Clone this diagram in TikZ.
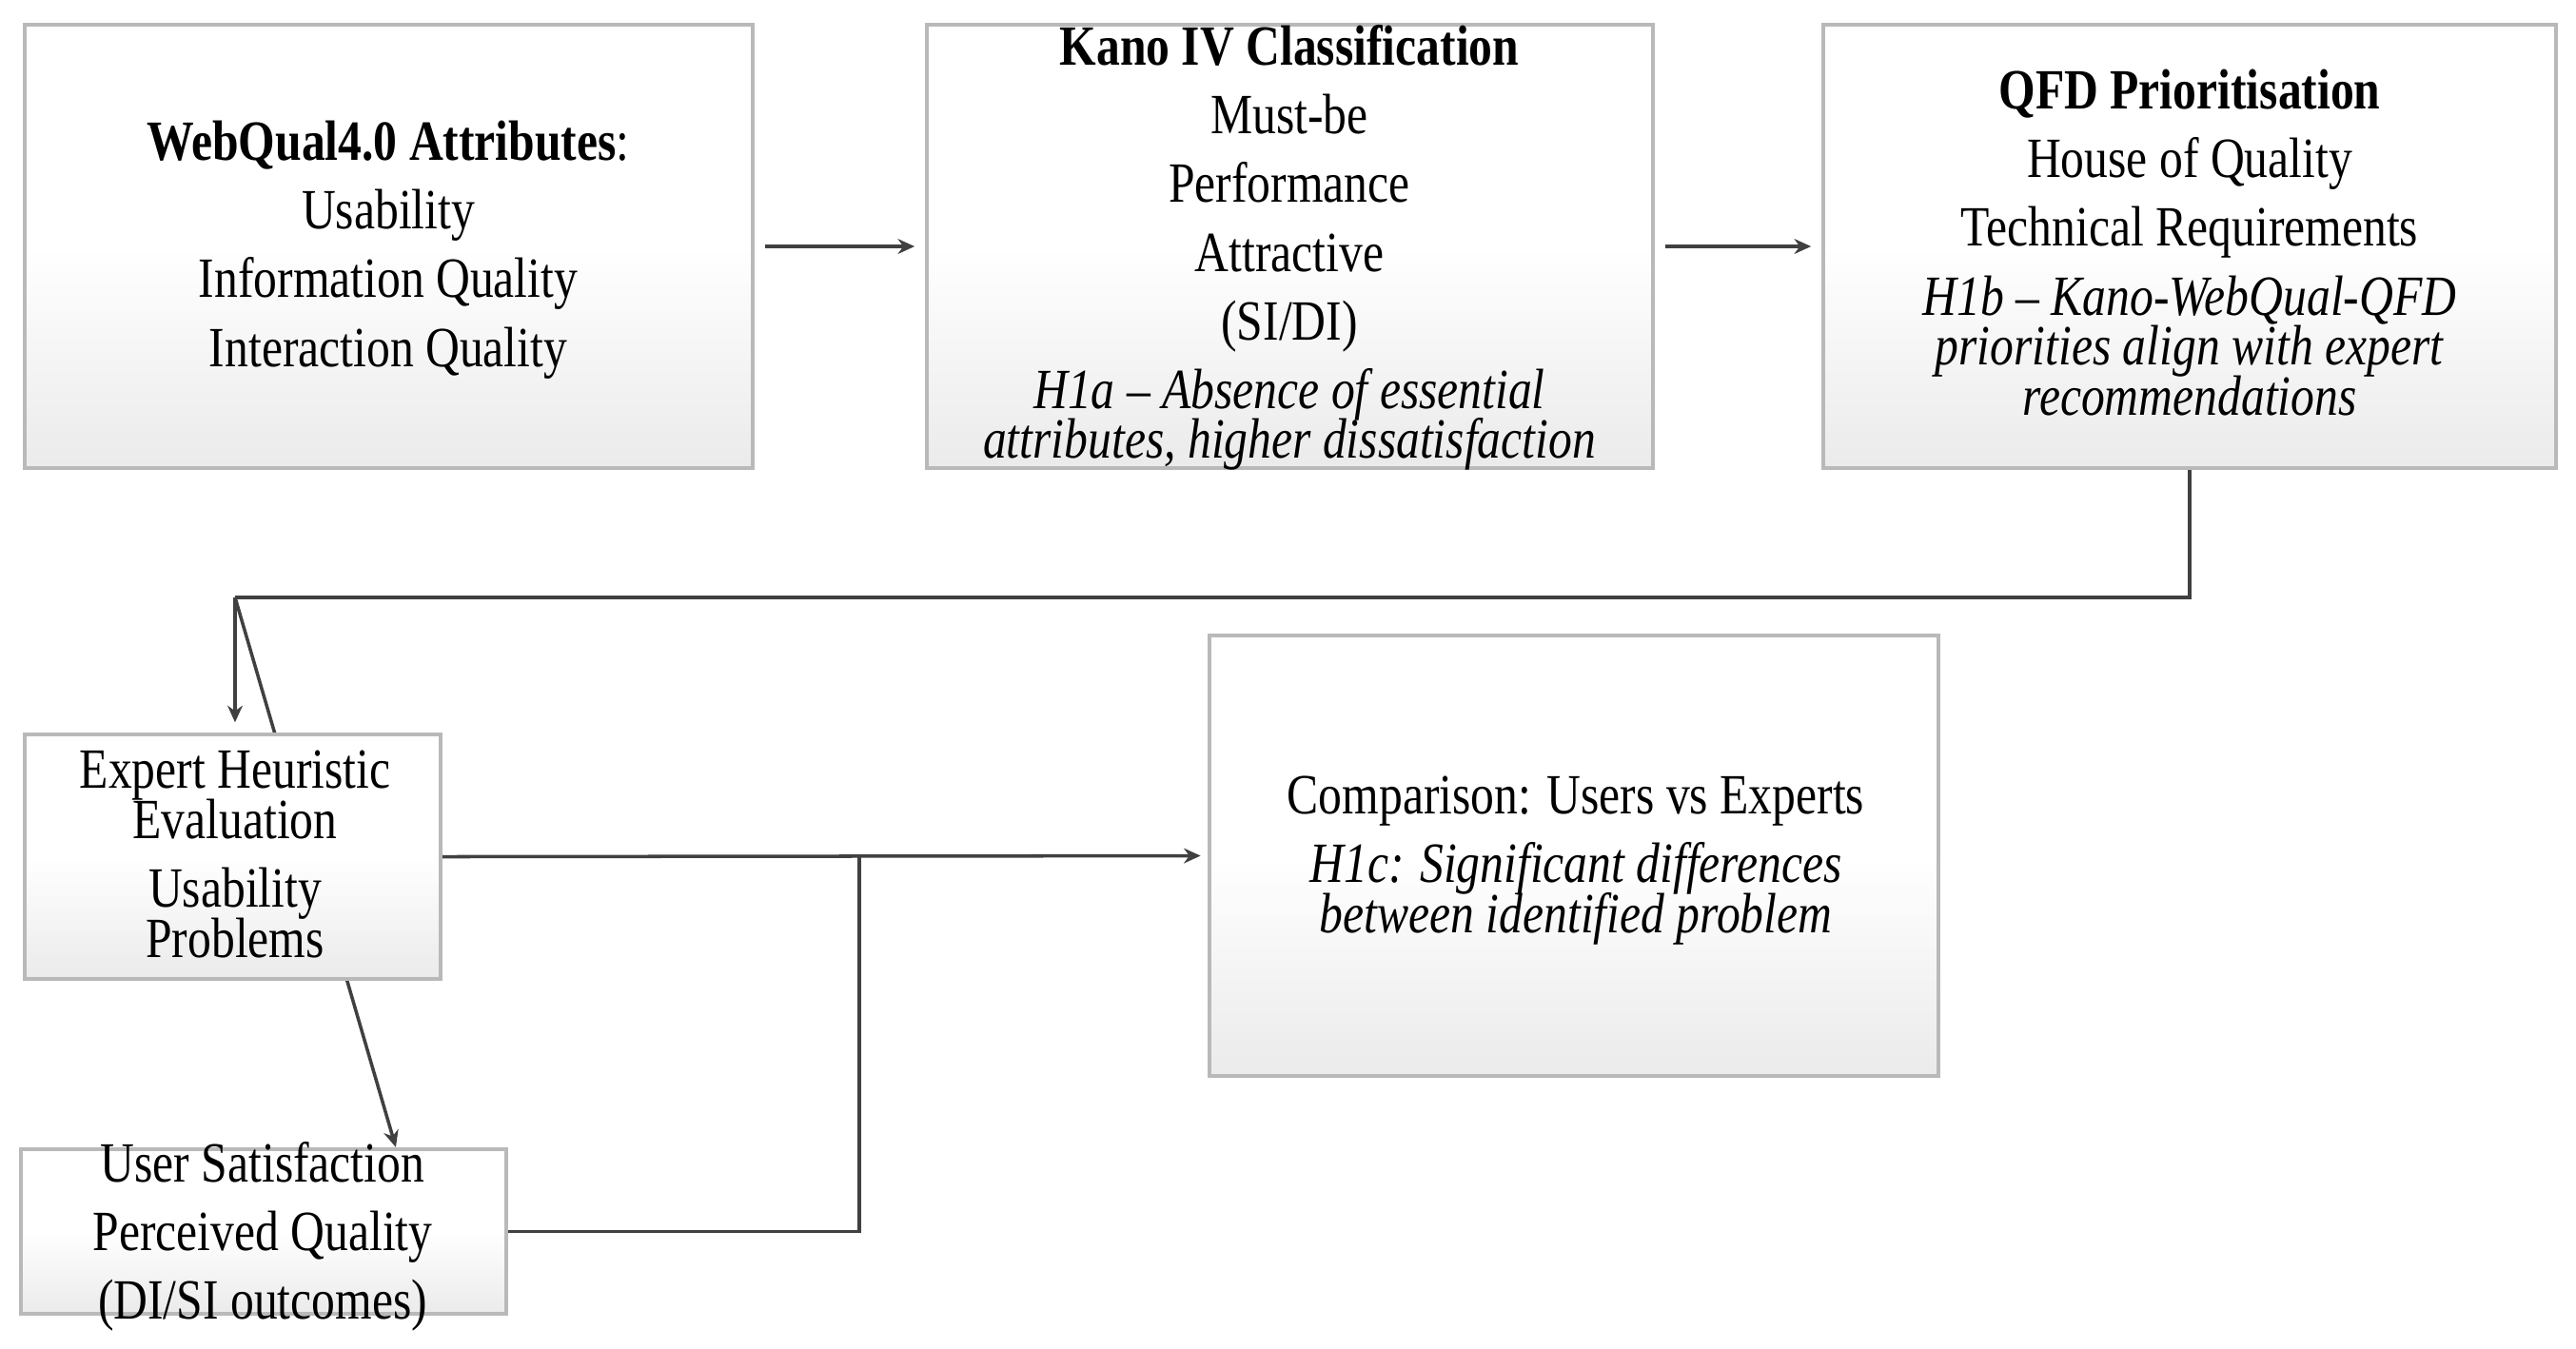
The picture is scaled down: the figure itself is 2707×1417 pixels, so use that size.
\documentclass[tikz,border=0pt]{standalone}
\usepackage{fontspec}
\setmainfont{Liberation Serif}[FakeStretch=0.83]
\usetikzlibrary{arrows.meta,calc,backgrounds}
\newcommand\fstrut{\rule{0pt}{0.6cm}}
\newcommand\txtfont{\fontsize{17}{20.5}\selectfont\lineskiplimit -100pt\relax}
\tikzset{
  box/.style={rectangle, draw=gray!55, line width=1.2pt, inner sep=0pt,
    top color=white, bottom color=gray!16, middle color=white},
  txt/.style={align=center, anchor=north, inner sep=0pt, font=\txtfont},
  conn/.style={draw=black!75, line width=1pt},
  arr/.style={conn, -{Stealth[length=5pt,width=4.5pt]}},
}
\begin{document}
\begin{tikzpicture}[x=0.01cm,y=-0.01cm]
\useasboundingbox (0,0) rectangle (2707,1417);
% boxes
\node[box, minimum width=7.65cm, minimum height=4.66cm] (b1) at (408.5,259) {};
\node[box, minimum width=7.63cm, minimum height=4.66cm] (b2) at (1355.5,259) {};
\node[box, minimum width=7.70cm, minimum height=4.66cm] (b3) at (2301,259) {};
\node[box, minimum width=4.37cm, minimum height=2.57cm] (b4) at (244.5,900.5) {};
\node[box, minimum width=5.10cm, minimum height=1.73cm] (b5) at (277,1294.5) {};
\node[box, minimum width=7.66cm, minimum height=4.63cm] (b6) at (1654,899.5) {};
% texts
\node[txt] (t1) at (408,108) {\fstrut\textbf{WebQual4.0 Attributes}:\\Usability\\Information Quality\\Interaction Quality};
\node[txt] (t2) at (1355,8) {\fstrut\textbf{Kano IV Classification}\\Must-be\\Performance\\Attractive\\(SI/DI)\\\textit{H1a – Absence of essential}\\[-5.5pt]\textit{attributes, higher dissatisfaction}};
\node[txt] (t3) at (2301,54) {\fstrut\textbf{QFD Prioritisation}\\House of Quality\\Technical Requirements\\\textit{H1b – Kano-WebQual-QFD}\\[-5.5pt]\textit{priorities align with expert}\\[-5.5pt]\textit{recommendations}};
\node[txt] (t4) at (247,768) {\fstrut Expert Heuristic\\[-5.5pt]Evaluation\\Usability\\[-5.5pt]Problems};
\node[txt] (t5) at (276,1182) {\fstrut User Satisfaction\\Perceived Quality\\(DI/SI outcomes)};
\node[txt] (t6) at (1656,795) {\fstrut Comparison: Users vs Experts\\\textit{H1c: Significant differences}\\[-5.5pt]\textit{between identified problem}};
% connectors
\coordinate (corner) at (247,628);
\coordinate (junc) at (903,900);
\draw[arr, shorten <=3pt, shorten >=3pt] (b1.east) -- (b2.west);
\draw[arr, shorten <=3pt, shorten >=3pt] (b2.east) -- (b3.west);
\draw[conn] (b3.south) |- (corner);
\draw[arr, shorten >=3pt] (corner) -- (corner |- b4.north);
\begin{pgfonlayer}{background}
\draw[arr] (corner) -- ($(b5.north west)!0.77!(b5.north east)$);
\end{pgfonlayer}
\draw[arr, shorten >=2pt] (b4.east) -- (b6.west);
\draw[conn] (b5.east) -| (junc);
\end{tikzpicture}
\end{document}
